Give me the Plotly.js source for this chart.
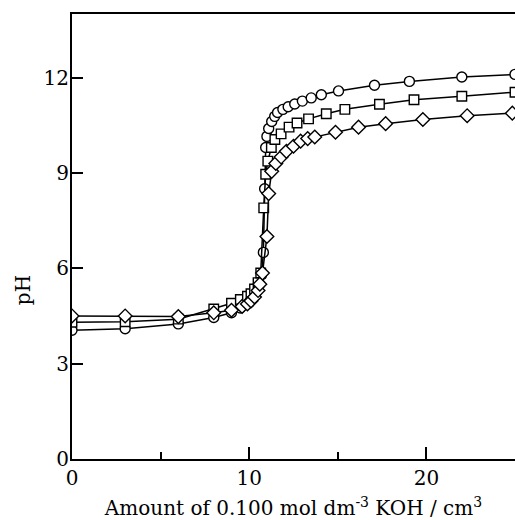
<!DOCTYPE html>
<html>
<head>
<meta charset="utf-8">
<script src="https://cdn.plot.ly/plotly-3.0.1.min.js"></script>
<style>html,body{margin:0;padding:0;background:#fff}#chart{width:515px;height:520px}</style>
</head>
<body>
<div id="chart"></div>
<script>
// Series A (circles)
const xCircle = [0, 3, 6, 8, 9, 9.5, 10, 10.2, 10.4, 10.6, 10.7, 10.8, 10.87, 10.93, 11.0, 11.1, 11.27, 11.44, 11.6, 11.9, 12.2, 12.57, 13.0, 13.5, 14.07, 15.04, 17.07, 19.04, 22.0, 25.0];
const yCircle = [4.05, 4.1, 4.25, 4.45, 4.6, 4.75, 4.92, 5.05, 5.25, 5.5, 5.8, 6.5, 8.5, 9.8, 10.15, 10.4, 10.62, 10.78, 10.9, 11.0, 11.08, 11.17, 11.26, 11.36, 11.46, 11.58, 11.76, 11.88, 12.02, 12.1];
// Series B (squares)
const xSquare = [0, 3, 6, 8, 9, 9.5, 9.9, 10.1, 10.3, 10.5, 10.65, 10.82, 10.93, 11.05, 11.25, 11.45, 11.8, 12.25, 12.7, 13.35, 14.35, 15.4, 17.35, 19.3, 22.0, 25.0];
const ySquare = [4.3, 4.32, 4.4, 4.72, 4.9, 5.02, 5.12, 5.2, 5.35, 5.55, 5.85, 7.9, 8.96, 9.37, 9.8, 10.05, 10.23, 10.44, 10.57, 10.7, 10.86, 11.0, 11.16, 11.3, 11.41, 11.54];
// Series C (diamonds)
const xDiamond = [0, 3, 6, 8, 9, 9.6, 9.9, 10.1, 10.3, 10.5, 10.6, 10.75, 11.0, 11.1, 11.27, 11.5, 11.8, 12.1, 12.5, 12.9, 13.3, 13.7, 14.87, 16.17, 17.7, 19.8, 22.3, 24.85];
const yDiamond = [4.5, 4.5, 4.48, 4.6, 4.68, 4.8, 4.88, 4.97, 5.1, 5.3, 5.5, 5.85, 7.0, 8.35, 9.05, 9.3, 9.5, 9.68, 9.84, 10.0, 10.08, 10.13, 10.28, 10.44, 10.55, 10.68, 10.8, 10.88];

const xTickVals = [0, 10, 20];
const xTickText = ['0', '10', '20'];
const yTickVals = [0, 3, 6, 9, 12];
const yTickText = ['0', '3', '6', '9', '12'];

function series(x, y, symbol, size) {
  return {
    x: x, y: y, type: 'scatter', mode: 'lines+markers',
    line: {color: '#000', width: 1.5},
    marker: {symbol: symbol, size: size, color: '#fff', line: {color: '#000', width: 1.4}},
    showlegend: false, hoverinfo: 'skip'
  };
}

const data = [
  series(xCircle, yCircle, 'circle', 10),
  series(xSquare, ySquare, 'square', 9.5),
  series(xDiamond, yDiamond, 'diamond', 10.5)
];

const font = {family: 'DejaVu Serif, serif', color: '#000'};

const layout = {
  width: 515, height: 520,
  margin: {l: 72, r: 0, t: 14, b: 61},
  paper_bgcolor: '#fff', plot_bgcolor: '#fff',
  font: Object.assign({size: 20}, font),
  xaxis: {
    range: [0, 25],
    tickvals: xTickVals, ticktext: xTickText,
    ticks: 'inside', ticklen: 12, tickwidth: 2, tickcolor: '#000',
    minor: {dtick: 5, tick0: 0, ticks: 'inside', ticklen: 7, tickwidth: 2, tickcolor: '#000'},
    showline: true, linewidth: 2, linecolor: '#000', mirror: true,
    showgrid: false, zeroline: false,
    tickfont: Object.assign({size: 20}, font),
    title: {text: 'Amount of 0.100 mol dm<sup>-3</sup> KOH / cm<sup>3</sup>', font: Object.assign({size: 20}, font), standoff: 12}
  },
  yaxis: {
    range: [0, 14],
    tickvals: yTickVals, ticktext: yTickText,
    ticks: 'inside', ticklen: 11, tickwidth: 2, tickcolor: '#000',
    showline: true, linewidth: 2, linecolor: '#000', mirror: false,
    showgrid: false, zeroline: false,
    tickfont: Object.assign({size: 20}, font),
    ticklabelstandoff: -3
  },
  annotations: [{
    text: 'pH', xref: 'paper', yref: 'paper', x: -0.11, y: 0.38,
    xanchor: 'center', yanchor: 'middle', textangle: -90, showarrow: false,
    font: Object.assign({size: 20}, font)
  }]
};

Plotly.newPlot('chart', data, layout, {displayModeBar: false, staticPlot: true});
</script>
</body>
</html>
